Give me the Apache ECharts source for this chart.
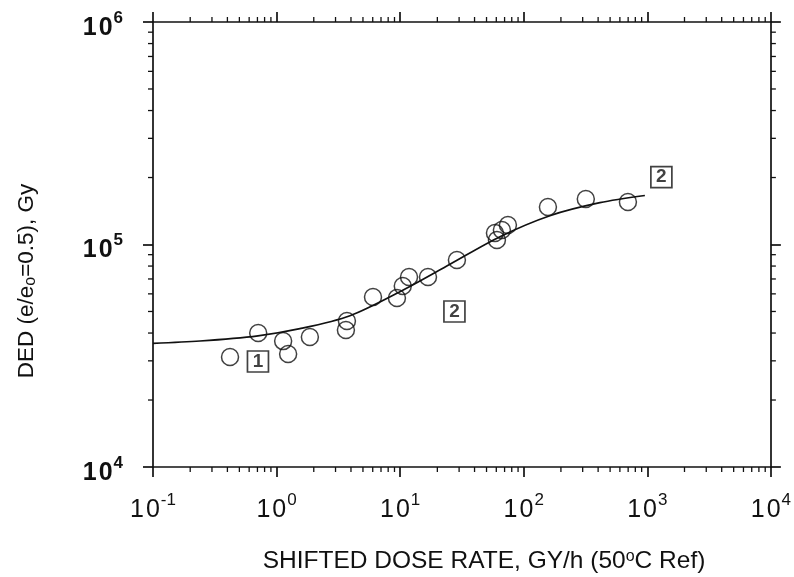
<!DOCTYPE html>
<html>
<head>
<meta charset="utf-8">
<script src="https://cdn.jsdelivr.net/npm/echarts@6/dist/echarts.min.js"></script>
<style>html,body{margin:0;padding:0;background:#fff;}#c{width:794px;height:577px;}</style>
</head>
<body>
<div id="c"></div>
<script>
// ---- data ----
const dataX = [0.42, 0.71, 1.13, 1.24, 1.86, 3.64, 3.71, 6.03, 9.42, 10.5, 11.8, 16.8, 28.8, 58.5, 60.7, 66.6, 74.5, 157, 318, 697];
const dataY = [31200, 40000, 36800, 32200, 38400, 41300, 45300, 58100, 57500, 65100, 71400, 71400, 85200, 112700, 104800, 116200, 122400, 147400, 160100, 155300];
const curveX = [0.1, 0.24, 0.707, 1.546, 3.93, 9.96, 25.3, 64.2, 162.9, 413.6, 956];
const curveY = [35970, 36840, 38880, 41840, 47860, 61360, 81540, 108420, 134750, 154140, 166030];
const boxX = [0.707, 27.5, 1300];
const boxY = [29800, 50000, 201000];
const boxText = ['1', '2', '2'];
const xTicks = [0.1, 1, 10, 100, 1000, 10000];
const yTicks = [10000, 100000, 1000000];
const xTitle = 'SHIFTED DOSE RATE, GY/h (50{sup|o}C Ref)';
const yTitle = 'DED (e/e{sub|o}=0.5), Gy';

const FONT = '"Liberation Sans", Arial, Helvetica, sans-serif';
const INK = '#111';

// minor tick values (axis decoration)
const minorX = [], minorY = [];
for (let e = Math.log10(xTicks[0]); e < Math.log10(xTicks[xTicks.length-1]); e++)
  for (let m = 2; m <= 9; m++) minorX.push(m * Math.pow(10, e));
for (let e = Math.log10(yTicks[0]); e < Math.log10(yTicks[yTicks.length-1]); e++)
  for (let m = 2; m <= 9; m++) minorY.push(m * Math.pow(10, e));

const supFmt = v => '{a|1}{b|0}{s|' + Math.round(Math.log10(v)) + '}';
const labRich = (bold) => {
  const w = bold ? 'bold' : 'normal';
  return {
    a: {fontFamily: FONT, fontSize: 25, fontWeight: w, color: INK, lineHeight: 31, verticalAlign: 'bottom', padding: [0, 2, 0, 0]},
    b: {fontFamily: FONT, fontSize: 25, fontWeight: w, color: INK, lineHeight: 31, verticalAlign: 'bottom', padding: [0, 1, 0, 0]},
    s: {fontFamily: FONT, fontSize: 17, fontWeight: w, color: INK, lineHeight: 17, verticalAlign: 'top'}
  };
};

const xmin = xTicks[0], xmax = xTicks[xTicks.length-1];
const ymin = yTicks[0], ymax = yTicks[yTicks.length-1];

const baseX = {type: 'log', logBase: 10, min: xmin, max: xmax, splitLine: {show: false},
  axisLine: {show: true, lineStyle: {color: INK, width: 1.7}},
  axisTick: {show: true, inside: false, length: 10, lineStyle: {color: INK, width: 1.7}}};
const baseY = {type: 'log', logBase: 10, min: ymin, max: ymax, splitLine: {show: false},
  axisLine: {show: true, lineStyle: {color: INK, width: 1.7}},
  axisTick: {show: true, inside: false, length: 10, lineStyle: {color: INK, width: 1.7}}};

function tickRenderer(isX) {
  return function (params, api) {
    const cs = params.coordSys;
    const p = api.coord([api.value(0), api.value(1)]);
    const st = {stroke: INK, lineWidth: 1.3};
    if (isX) {
      const yb = cs.y + cs.height, yt = cs.y;
      return {type: 'group', children: [
        {type: 'line', shape: {x1: p[0], y1: yb, x2: p[0], y2: yb + 5}, style: st},
        {type: 'line', shape: {x1: p[0], y1: yt, x2: p[0], y2: yt - 5}, style: st}
      ]};
    } else {
      const xl = cs.x, xr = cs.x + cs.width;
      return {type: 'group', children: [
        {type: 'line', shape: {x1: xl, y1: p[1], x2: xl - 5, y2: p[1]}, style: st},
        {type: 'line', shape: {x1: xr, y1: p[1], x2: xr + 5, y2: p[1]}, style: st}
      ]};
    }
  };
}

const chart = echarts.init(document.getElementById('c'), null, {renderer: 'canvas'});
chart.setOption({
  backgroundColor: '#fff',
  animation: false,
  grid: {left: 153, right: 23, top: 22, bottom: 110},
  xAxis: [
    Object.assign({}, baseX, {position: 'bottom', interval: 1,
      axisLabel: {show: true, margin: 25, formatter: supFmt, rich: labRich(false), showMinLabel: true, showMaxLabel: true}}),
    Object.assign({}, baseX, {position: 'top', interval: 1, axisLabel: {show: false}})
  ],
  yAxis: [
    Object.assign({}, baseY, {position: 'left', interval: 1,
      axisLabel: {show: true, margin: 30, padding: [6, 0, 0, 0], formatter: supFmt, rich: labRich(true), showMinLabel: true, showMaxLabel: true}}),
    Object.assign({}, baseY, {position: 'right', interval: 1, axisLabel: {show: false}})
  ],
  graphic: [
    {type: 'text', x: 484, y: 561, silent: true,
      style: {text: xTitle, fontFamily: FONT, fontSize: 24.5, fill: INK, align: 'center', verticalAlign: 'middle',
        rich: {sup: {fontFamily: FONT, fontSize: 16, fill: INK, verticalAlign: 'top', lineHeight: 16, padding: [0, 0, 10, 0]}}}},
    {type: 'text', x: 27, y: 281, rotation: Math.PI / 2, silent: true,
      style: {text: yTitle, fontFamily: FONT, fontSize: 22.5, fill: INK, align: 'center', verticalAlign: 'middle',
        rich: {sub: {fontFamily: FONT, fontSize: 16, fill: INK, verticalAlign: 'bottom', lineHeight: 16, padding: [14, 0, 0, 0]}}}}
  ],
  series: [
    {type: 'custom', xAxisIndex: 0, yAxisIndex: 0, silent: true, clip: false,
      data: minorX.map(v => [v, ymin]), renderItem: tickRenderer(true)},
    {type: 'custom', xAxisIndex: 0, yAxisIndex: 0, silent: true, clip: false,
      data: minorY.map(v => [xmin, v]), renderItem: tickRenderer(false)},
    {type: 'line', xAxisIndex: 0, yAxisIndex: 0, smooth: 0.3, showSymbol: false, silent: true,
      data: curveX.map((x, i) => [x, curveY[i]]),
      lineStyle: {color: INK, width: 1.7}},
    {type: 'scatter', xAxisIndex: 0, yAxisIndex: 0, symbol: 'circle', symbolSize: 17, silent: true,
      data: dataX.map((x, i) => [x, dataY[i]]),
      itemStyle: {color: 'rgba(0,0,0,0)', borderColor: INK, borderWidth: 1.5}},
    {type: 'scatter', xAxisIndex: 0, yAxisIndex: 0, symbol: 'rect', symbolSize: [21, 21], silent: true,
      data: boxX.map((x, i) => [x, boxY[i]]),
      itemStyle: {color: '#fff', borderColor: INK, borderWidth: 1.7},
      label: {show: true, position: 'inside', formatter: p => boxText[p.dataIndex],
        fontFamily: FONT, fontSize: 19, fontWeight: 'bold', color: INK}}
  ]
});
</script>
</body>
</html>
